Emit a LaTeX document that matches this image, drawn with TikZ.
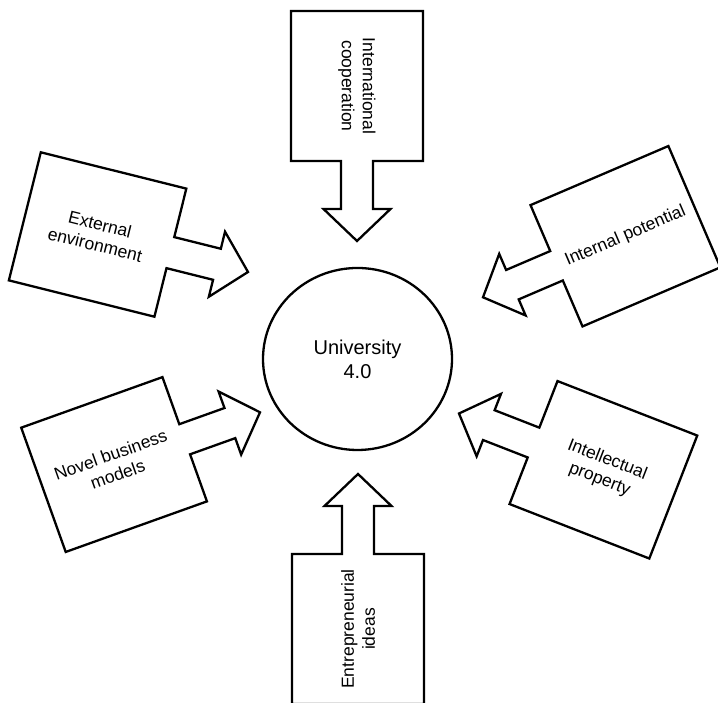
\documentclass[tikz,border=0pt]{standalone}
\usepackage{fontspec}
\setmainfont{Liberation Sans}
\usetikzlibrary{shapes.geometric}
\tikzset{
  blockarrow/.style={draw=black, line width=2.3pt, line join=miter, fill=white},
  lbl/.style={font=\fontsize{17.5}{21}\selectfont, align=center, inner sep=0pt},
  hub/.style={ellipse, draw=black, line width=2.3pt, minimum width=189pt, minimum height=182pt,
    inner sep=0pt, align=center, font=\fontsize{20}{24}\selectfont}
}
% #1 name, #2 tip, #3 arrow angle, #4 text angle, #5 text
\newcommand\feeder[5]{%
  \begin{scope}[shift={#2}, rotate=#3]
    \coordinate (#1tip) at (0,0);
    \draw[blockarrow] (#1tip) -- (-32,33.5) -- (-32,16) -- (-80,16) -- (-80,66) -- (-230,66)
      -- (-230,-66) -- (-80,-66) -- (-80,-16) -- (-32,-16) -- (-32,-33.5) -- cycle;
    \node[lbl, rotate=#4] (#1) at (-155,0) {#5};
  \end{scope}}
\begin{document}
\begin{tikzpicture}[x=1pt, y=1pt]
  \useasboundingbox (0,0) rectangle (718,703);
  \node[hub] (univ) at (357.5,344) {University\\4.0};
  \feeder{coop}{(357,462)}{-90}{-90}{International\\cooperation}
  \feeder{entre}{(358,229)}{90}{90}{Entrepreneurial\\ideas}
  \feeder{ext}{(248,431)}{-14}{-14}{External\\environment}
  \feeder{intpot}{(483,405.7)}{203.2}{23.2}{Internal potential}
  \feeder{novel}{(260,290.7)}{19.7}{19.7}{Novel business\\models}
  \feeder{ip}{(459,289.5)}{158.7}{-21.3}{Intellectual\\property}
\end{tikzpicture}
\end{document}
